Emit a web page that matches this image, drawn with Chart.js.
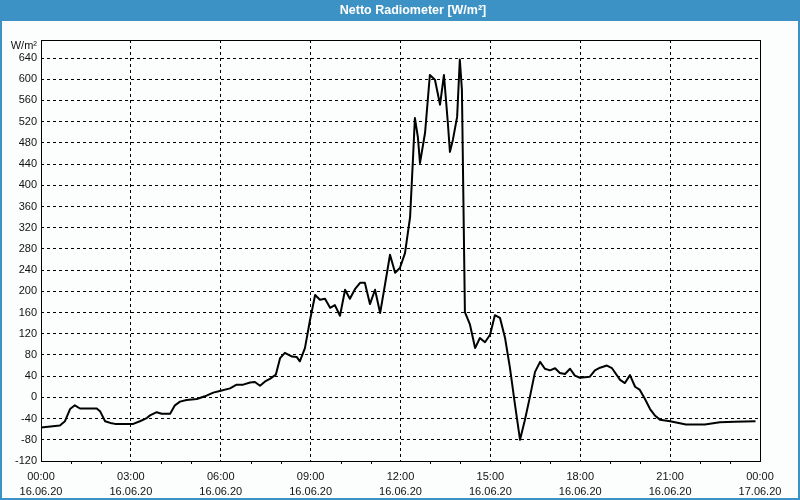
<!DOCTYPE html>
<html><head><meta charset="utf-8">
<script src="https://cdn.jsdelivr.net/npm/chart.js@4"></script>
<style>html,body{margin:0;padding:0;background:#fcfefe}canvas{display:block}</style>
</head><body>
<canvas id="c" width="800" height="500"></canvas>
<script>
const titleText = "Netto Radiometer [W/m²]";
const unitLabel = "W/m²";
const hours = [0.00,0.63,0.80,0.97,1.13,1.30,1.86,1.97,2.14,2.36,2.47,3.08,3.30,3.53,3.64,3.86,4.03,4.31,4.47,4.64,4.86,5.20,5.47,5.75,5.97,6.31,6.53,6.75,6.98,7.14,7.31,7.48,7.64,7.84,7.98,8.14,8.38,8.54,8.64,8.81,8.98,9.15,9.31,9.48,9.65,9.81,9.98,10.15,10.31,10.48,10.65,10.81,10.98,11.15,11.32,11.48,11.65,11.82,11.98,12.15,12.32,12.42,12.48,12.58,12.65,12.82,12.98,13.15,13.32,13.45,13.58,13.65,13.75,13.89,13.98,14.05,14.15,14.32,14.49,14.65,14.82,14.99,15.15,15.32,15.49,15.65,15.82,15.99,16.15,16.32,16.49,16.66,16.82,16.99,17.16,17.32,17.49,17.66,17.82,17.99,18.32,18.49,18.66,18.89,19.06,19.33,19.49,19.66,19.83,19.99,20.16,20.33,20.49,20.66,21.00,21.53,22.16,22.66,23.16,23.85];
const netto = [-57,-53,-45,-22,-15,-21,-21,-26,-45,-49,-50,-50,-45,-39,-34,-28,-31,-31,-15,-8,-5,-3,2,9,12,17,24,24,28,29,22,30,35,43,74,84,77,76,68,93,146,193,184,186,169,174,154,203,186,204,216,216,176,203,159,212,269,235,244,272,340,454,527,491,442,499,608,599,552,608,518,463,486,529,637,580,161,137,93,112,104,118,155,150,112,57,-13,-80,-43,1,48,67,54,51,55,46,44,54,41,37,39,51,56,60,55,33,27,42,20,14,-3,-22,-34,-42,-45,-51,-51,-47,-46,-45];
const yTicks = [-120,-80,-40,0,40,80,120,160,200,240,280,320,360,400,440,480,520,560,600,640];
const xTicks = [0,3,6,9,12,15,18,21,24];
const timeLabels = ["00:00","03:00","06:00","09:00","12:00","15:00","18:00","21:00","00:00"];
const dateLabels = ["16.06.20","16.06.20","16.06.20","16.06.20","16.06.20","16.06.20","16.06.20","16.06.20","17.06.20"];
const minorHours = [1,2,4,5,7,8,10,11,13,14,16,17,19,20,22,23];

const BLUE = "#3c92c4";
const FONT = {family: "'Liberation Sans', Arial, sans-serif", size: 11};

const frame = {
  id: 'frame',
  beforeDraw(chart) {
    const c = chart.ctx;
    c.save();
    c.fillStyle = "#fcfefe";
    c.fillRect(0, 0, 800, 500);
    c.restore();
  },
  afterDraw(chart) {
    const c = chart.ctx, a = chart.chartArea, xs = chart.scales.x;
    c.save();
    c.strokeStyle = "#000"; c.lineWidth = 1; c.setLineDash([]);
    c.strokeRect(Math.round(a.left) + 0.5, Math.round(a.top) + 0.5, Math.round(a.right - a.left), Math.round(a.bottom - a.top));
    c.beginPath();
    minorHours.forEach(h => {
      const x = Math.round(xs.getPixelForValue(h)) + 0.5;
      c.moveTo(x, a.bottom); c.lineTo(x, a.bottom + 3);
    });
    c.stroke();
    c.fillStyle = "#111";
    c.font = "11px 'Liberation Sans', Arial, sans-serif";
    c.textAlign = "right"; c.textBaseline = "middle";
    c.fillText(unitLabel, 37, 46);
    c.fillStyle = BLUE;
    c.fillRect(0, 0, 800, 21);
    c.fillRect(0, 0, 2, 500);
    c.fillRect(798, 0, 2, 500);
    c.fillRect(0, 498, 800, 2);
    c.fillStyle = "#fff";
    c.font = "bold 12.5px 'Liberation Sans', Arial, sans-serif";
    c.textAlign = "center"; c.textBaseline = "middle";
    c.fillText(titleText, 413, 11);
    c.restore();
  }
};

new Chart(document.getElementById('c'), {
  type: 'line',
  data: {
    datasets: [{
      data: hours.map((h, i) => ({x: h, y: netto[i]})),
      borderColor: "#000",
      borderWidth: 2,
      borderJoinStyle: 'round',
      pointRadius: 0,
      tension: 0,
      fill: false
    }]
  },
  options: {
    responsive: false,
    animation: false,
    devicePixelRatio: 1,
    layout: {padding: {top: 40, right: 40, bottom: 0, left: 0}},
    plugins: {legend: {display: false}, tooltip: {enabled: false}, title: {display: false}},
    scales: {
      x: {
        type: 'linear', min: 0, max: 24,
        afterBuildTicks: s => { s.ticks = xTicks.map(v => ({value: v})); },
        afterFit: s => { s.height = 39; },
        ticks: {
          autoSkip: false, maxRotation: 0, minRotation: 0, padding: 9,
          color: "#111", font: {family: FONT.family, size: 11, lineHeight: 1.35},
          callback: (v, i) => [timeLabels[i], dateLabels[i]]
        },
        grid: {color: "#000", lineWidth: 1, drawTicks: false},
        border: {display: false, dash: [3, 3]}
      },
      y: {
        min: -120, max: 674,
        afterBuildTicks: s => { s.ticks = yTicks.map(v => ({value: v})); },
        afterFit: s => { s.width = 41; },
        ticks: {padding: 4, color: "#111", font: FONT, callback: v => String(v)},
        grid: {color: "#000", lineWidth: 1, drawTicks: false},
        border: {display: false, dash: [3, 3]}
      }
    }
  },
  plugins: [frame]
});
</script>
</body></html>
